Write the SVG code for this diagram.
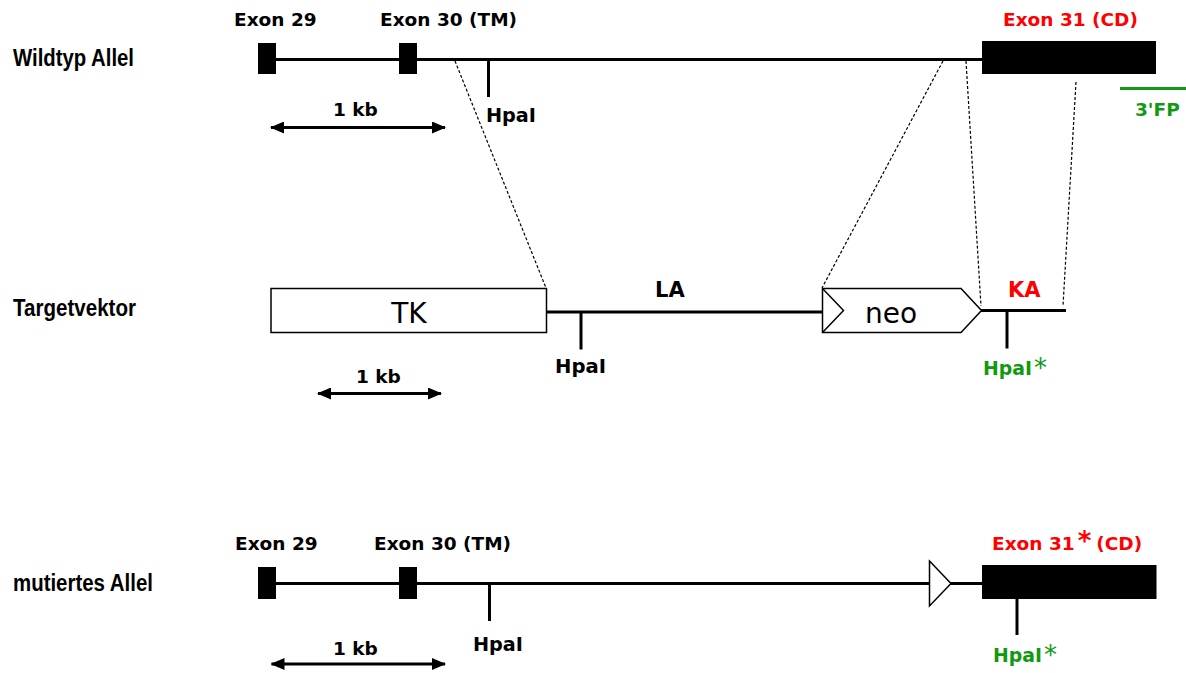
<svg xmlns="http://www.w3.org/2000/svg" width="1186" height="673" viewBox="0 0 1186 673">
<style>
.lbl{font-family:"Liberation Sans",Arial,sans-serif;font-weight:bold;font-size:23px;fill:#000}
.b{font-family:"DejaVu Sans",Verdana,sans-serif;font-weight:bold;font-size:18.5px;fill:#000}
.hp{font-family:"DejaVu Sans",Verdana,sans-serif;font-weight:bold;font-size:19.5px;fill:#000}
.big{font-family:"DejaVu Sans",Verdana,sans-serif;font-size:28px;fill:#000}
.red{fill:#ff0000}
.grn{fill:#119911}
.ast{font-family:"DejaVu Sans",Verdana,sans-serif;font-size:26px}
.ln{stroke:#000;stroke-width:3;fill:none}
.dash{stroke:#000;stroke-width:1.2;stroke-dasharray:3,2;fill:none}
.ex{fill:#000}
.box{fill:#fff;stroke:#000;stroke-width:1.5}
</style>
<defs>
<marker id="ah" viewBox="0 0 14 12" refX="13" refY="6" markerWidth="14" markerHeight="12" markerUnits="userSpaceOnUse" orient="auto-start-reverse">
<path d="M0,0 L14,6 L0,12 Z" fill="#000"/>
</marker>
</defs>

<g id="labels">
<text class="lbl" x="13" y="66" textLength="121" lengthAdjust="spacingAndGlyphs">Wildtyp Allel</text>
<text class="lbl" x="13" y="316" textLength="123" lengthAdjust="spacingAndGlyphs">Targetvektor</text>
<text class="lbl" x="13" y="591" textLength="140" lengthAdjust="spacingAndGlyphs">mutiertes Allel</text>
</g>

<g id="connectors">
<line class="dash" x1="455" y1="61" x2="546" y2="288"/>
<line class="dash" x1="943" y1="61" x2="822" y2="288"/>
<line class="dash" x1="966" y1="61" x2="981" y2="306"/>
<line class="dash" x1="1076" y1="82" x2="1063" y2="306"/>
</g>

<g id="wildtyp">
<line class="ln" x1="276" y1="59.5" x2="982" y2="59.5"/>
<rect class="ex" x="258" y="43" width="18" height="31"/>
<rect class="ex" x="399" y="43" width="18" height="31"/>
<rect class="ex" x="982" y="41" width="174" height="33"/>
<line class="ln" x1="488.5" y1="59.5" x2="488.5" y2="97"/>
<text class="b" x="234" y="26">Exon 29</text>
<text class="b" x="380" y="26">Exon 30 (TM)</text>
<text class="b red" x="1003" y="26">Exon 31 (CD)</text>
<text class="hp" x="486" y="122" textLength="50" lengthAdjust="spacingAndGlyphs">HpaI</text>
<line class="ln" x1="271" y1="127.5" x2="445" y2="127.5" marker-start="url(#ah)" marker-end="url(#ah)"/>
<text class="b" x="333" y="116">1 kb</text>
<line x1="1120" y1="88.5" x2="1186" y2="88.5" stroke="#119911" stroke-width="3"/>
<text class="b grn" x="1135" y="116">3'FP</text>
</g>

<g id="targetvektor">
<line class="ln" x1="546" y1="312" x2="822" y2="312"/>
<line class="ln" x1="981" y1="310.5" x2="1066" y2="310.5"/>
<rect class="box" x="271" y="288.5" width="275.5" height="44"/>
<text class="big" x="409" y="323" text-anchor="middle">TK</text>
<line class="ln" x1="581" y1="312" x2="581" y2="349.5"/>
<text class="hp" x="555" y="373" textLength="51" lengthAdjust="spacingAndGlyphs">HpaI</text>
<text class="b" x="655" y="297" style="font-size:21px">LA</text>
<path class="box" d="M822.5,288.5 H961 L981.5,310.5 L961,332.5 H822.5 Z"/>
<path d="M822.5,288.5 L843.5,310.5 L822.5,332.5" fill="none" stroke="#000" stroke-width="1.5"/>
<text class="big" x="891" y="323" text-anchor="middle">neo</text>
<text class="b red" x="1008" y="297" style="font-size:21px">KA</text>
<line class="ln" x1="1007" y1="310.5" x2="1007" y2="348.5"/>
<text class="hp grn" x="983" y="375" textLength="49" lengthAdjust="spacingAndGlyphs">HpaI</text>
<text class="ast grn" x="1034" y="377">*</text>
<line class="ln" x1="318" y1="393.5" x2="441" y2="393.5" marker-start="url(#ah)" marker-end="url(#ah)"/>
<text class="b" x="356" y="383">1 kb</text>
</g>

<g id="mutiert">
<line class="ln" x1="276" y1="583.5" x2="982" y2="583.5"/>
<path class="box" d="M929.5,561 L951,583.5 L929.5,606 Z"/>
<rect class="ex" x="258" y="567" width="18" height="32"/>
<rect class="ex" x="399" y="567" width="18" height="32"/>
<rect class="ex" x="982" y="565" width="174.5" height="34"/>
<line class="ln" x1="489.5" y1="583.5" x2="489.5" y2="621"/>
<line class="ln" x1="1017" y1="599" x2="1017" y2="635"/>
<text class="b" x="235" y="550">Exon 29</text>
<text class="b" x="374" y="550">Exon 30 (TM)</text>
<text class="b red" x="992" y="550">Exon 31<tspan class="ast" dx="3" dy="0">*</tspan><tspan dx="5" dy="0">(CD)</tspan></text>
<text class="hp" x="473" y="651" textLength="50" lengthAdjust="spacingAndGlyphs">HpaI</text>
<text class="hp grn" x="993" y="662" textLength="49" lengthAdjust="spacingAndGlyphs">HpaI</text>
<text class="ast grn" x="1044" y="664">*</text>
<line class="ln" x1="271.5" y1="664" x2="445" y2="664" marker-start="url(#ah)" marker-end="url(#ah)"/>
<text class="b" x="333" y="655">1 kb</text>
</g>
</svg>
